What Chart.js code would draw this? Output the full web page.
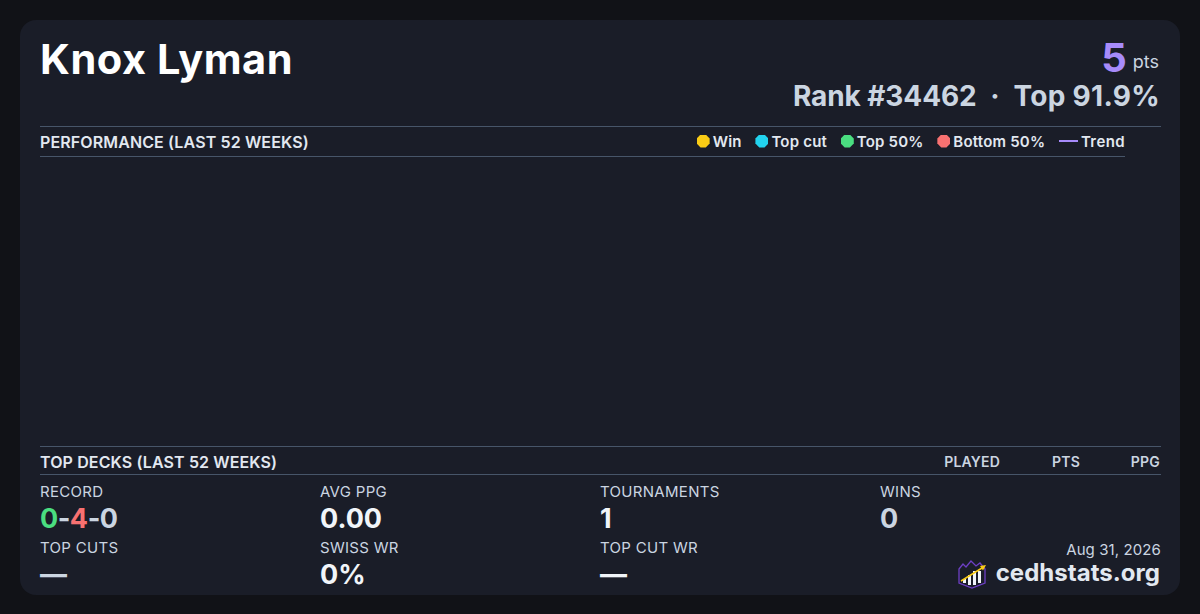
<!DOCTYPE html>
<html>
<head>
<meta charset="utf-8">
<title>Knox Lyman</title>
<script src="https://cdn.jsdelivr.net/npm/chart.js@4/dist/chart.umd.min.js"></script>
<style>
  html, body { margin: 0; padding: 0; width: 1200px; height: 614px; overflow: hidden; background: #111217; font-family: Inter, sans-serif; }
  .card { position: absolute; left: 20px; top: 20px; width: 1160px; height: 575px; background: #1a1d28; border-radius: 16px; }
  .t { position: absolute; white-space: nowrap; line-height: 1; }
  .rule { position: absolute; height: 1px; background: #475569; }
  .head { font-size: 16px; font-weight: 600; color: #e2e8f0; letter-spacing: 0.12px; }
  .col { font-size: 14px; font-weight: 600; color: #cbd5e1; letter-spacing: 0.2px; }
  .label { font-size: 15px; font-weight: 400; color: #cbd5e1; letter-spacing: 0.3px; }
  .value { font-size: 27px; font-weight: 700; color: #f1f5f9; }
  #chartWrap { position: absolute; left: 40px; top: 157px; width: 1085px; height: 289px; }
  #legend { position: absolute; top: 132px; right: 75px; display: flex; align-items: center; height: 18px; font-size: 15px; font-weight: 600; color: #e2e8f0; letter-spacing: 0.2px; }
  #legend .item { display: flex; align-items: center; margin-left: 13.75px; }
  #legend .item:last-child { letter-spacing: 0.4px; }
  #legend .dot { width: 13px; height: 13px; margin-right: 3px; clip-path: polygon(30% 0, 70% 0, 100% 30%, 100% 70%, 70% 100%, 30% 100%, 0 70%, 0 30%); }
  #legend .line { width: 19px; height: 2px; margin-right: 3px; }
</style>
</head>
<body>
<div class="card"></div>

<div class="t" style="left:40px;top:38.5px;font-size:41.5px;font-weight:700;color:#fff;letter-spacing:0.55px" id="playerName"></div>
<div class="t" style="right:41px;top:38px;color:#a78bfa;font-size:40px;font-weight:700"><span id="points"></span><span style="font-size:18px;font-weight:400;color:#cbd5e1;margin-left:6px;position:relative;top:-4px">pts</span></div>
<div class="t" style="right:40px;top:82px;font-size:28px;font-weight:700;color:#cbd5e1"><span id="rankText" style="letter-spacing:-0.1px"></span><span style="margin:0 0.5px"> &nbsp;·&nbsp; </span><span id="topText" style="letter-spacing:0.3px"></span></div>

<div class="rule" style="left:40px;top:126px;width:1121px"></div>
<div class="t head" style="left:40px;top:134px" id="perfTitle"></div>
<div id="legend"></div>
<div class="rule" style="left:40px;top:156px;width:1085px"></div>

<div id="chartWrap"><canvas id="perfChart"></canvas></div>

<div class="rule" style="left:40px;top:446px;width:1121px"></div>
<div class="t head" style="left:40px;top:454px" id="decksTitle"></div>
<div class="t col" style="right:200px;top:455px">PLAYED</div>
<div class="t col" style="right:120px;top:455px">PTS</div>
<div class="t col" style="right:40px;top:455px">PPG</div>
<div class="rule" style="left:40px;top:474px;width:1121px"></div>

<div id="stats"></div>

<div class="t" style="right:39px;top:542px;font-size:15px;color:#cbd5e1;letter-spacing:0.1px">Aug 31, 2026</div>
<svg style="position:absolute;left:957px;top:560px" width="30" height="29" viewBox="0 0 30 29">
  <path d="M2 9 L6 4 L9 7 L14 1 L19 6 L23 3 L28 9 L28 23 L15 28 L2 23 Z" fill="#1a1d28" stroke="#6d3fc4" stroke-width="1.3"/>
  <rect x="6" y="19" width="3" height="4" fill="#f1f5f9"/>
  <rect x="11" y="15" width="3" height="10" fill="#f1f5f9"/>
  <rect x="16" y="11" width="3" height="14" fill="#f1f5f9"/>
  <rect x="21" y="11" width="3" height="12" fill="#f1f5f9"/>
  <path d="M4 21 L25 8" stroke="#facc15" stroke-width="1.5"/>
  <path d="M29 5 L23 6 L26 10.5 Z" fill="#facc15"/>
</svg>
<div class="t" style="right:40px;top:561px;font-size:24px;font-weight:700;color:#e2e8f0;letter-spacing:0.03px">cedhstats.org</div>

<script>
// Header text
const playerName = 'Knox Lyman';
const points = '5';
const rankText = 'Rank #34462';
const topText = 'Top 91.9%';

// Series - this player has nothing plotted in the window
const weekLabels = [];
const winPoints = [];
const topCutPoints = [];
const top50Points = [];
const bottom50Points = [];
const trendPoints = [];

const seriesNames = ['Win', 'Top cut', 'Top 50%', 'Bottom 50%', 'Trend'];
const seriesColors = ['#facc15', '#22d3ee', '#4ade80', '#f87171', '#a78bfa'];

// Stat blocks
const statLabels = ['RECORD', 'AVG PPG', 'TOURNAMENTS', 'WINS', 'TOP CUTS', 'SWISS WR', 'TOP CUT WR'];
const statValues = [null, '0.00', '1', '0', '\u2014', '0%', '\u2014'];
const recordParts = ['0', '-', '4', '-', '0'];
const recordColors = ['#4ade80', '#cbd5e1', '#f87171', '#cbd5e1', '#cbd5e1'];

document.getElementById('playerName').textContent = playerName;
document.getElementById('points').textContent = points;
document.getElementById('rankText').textContent = rankText;
document.getElementById('topText').textContent = topText;
document.getElementById('perfTitle').textContent = 'PERFORMANCE (LAST 52 WEEKS)';
document.getElementById('decksTitle').textContent = 'TOP DECKS (LAST 52 WEEKS)';

const makeDataset = (i, data) => ({
    label: seriesNames[i],
    data: data,
    type: i === 4 ? 'line' : 'scatter',
    borderColor: seriesColors[i],
    backgroundColor: seriesColors[i],
    pointRadius: i === 4 ? 0 : 5
});

const perfChart = new Chart(document.getElementById('perfChart'), {
    data: {
        labels: weekLabels,
        datasets: [
            makeDataset(0, winPoints),
            makeDataset(1, topCutPoints),
            makeDataset(2, top50Points),
            makeDataset(3, bottom50Points),
            makeDataset(4, trendPoints)
        ]
    },
    options: {
        animation: false,
        responsive: true,
        maintainAspectRatio: false,
        scales: { x: { display: false }, y: { display: false } },
        plugins: { legend: { display: false }, tooltip: { enabled: false } }
    }
});

// Legend is built from the chart's datasets
const legend = document.getElementById('legend');
perfChart.data.datasets.forEach((ds, i) => {
    const item = document.createElement('div');
    item.className = 'item';
    const mark = document.createElement('span');
    mark.className = ds.label === 'Trend' ? 'line' : 'dot';
    mark.style.background = ds.backgroundColor;
    item.appendChild(mark);
    item.appendChild(document.createTextNode(ds.label));
    legend.appendChild(item);
});

// Stat grid
const stats = document.getElementById('stats');
const colX = [40, 320, 600, 880];
const place = (cls, x, y, color) => {
    const el = document.createElement('div');
    el.className = 't ' + cls;
    el.style.left = x + 'px';
    el.style.top = y + 'px';
    if (color) el.style.color = color;
    stats.appendChild(el);
    return el;
};
statLabels.forEach((label, i) => {
    const x = colX[i % 4];
    const row = i < 4 ? 0 : 1;
    place('label', x, row === 0 ? 484 : 540).textContent = label;
    const el = place('value', x, row === 0 ? 505 : 561);
    if (label === 'RECORD') {
        recordParts.forEach((p, j) => {
            const s = document.createElement('span');
            s.textContent = p;
            s.style.color = recordColors[j];
            if (p === '-') s.style.margin = '0 -0.5px';
            el.appendChild(s);
        });
    } else {
        el.textContent = statValues[i];
        if (label === 'WINS' || label === 'TOP CUTS') el.style.color = '#cbd5e1';
    }
});
</script>
</body>
</html>
